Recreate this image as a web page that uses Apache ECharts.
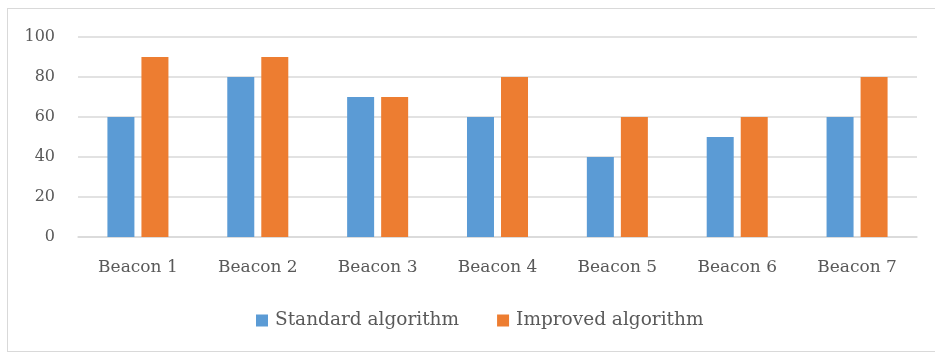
<!DOCTYPE html>
<html><head><meta charset="utf-8">
<script src="https://cdn.jsdelivr.net/npm/echarts@6/dist/echarts.min.js"></script>
<style>html,body{margin:0;padding:0;background:#fff;overflow:hidden}
#frame{position:absolute;left:7px;top:8px;width:940px;height:344px;border:1px solid #d9d9d9;box-sizing:border-box}
#c{position:absolute;left:0;top:0;width:935px;height:354px}</style>
</head><body><div id="frame"></div><div id="c"></div>
<script>
const categories = ['Beacon 1','Beacon 2','Beacon 3','Beacon 4','Beacon 5','Beacon 6','Beacon 7'];
const standard = [60, 80, 70, 60, 40, 50, 60];
const improved = [90, 90, 70, 80, 60, 60, 80];
const yTicks = {min: 0, max: 100, interval: 20};
const font = '"DejaVu Serif", serif';
const chart = echarts.init(document.getElementById('c'), null, {renderer:'canvas'});
chart.setOption({
  animation:false,
  grid:{left:78, right:18, top:37, bottom:117, containLabel:false},
  legend:{bottom:24, left:256, padding:0, itemWidth:12, itemHeight:12, itemGap:38,
    icon:'rect', textStyle:{fontFamily:font, fontSize:18.5, color:'#595959', padding:[0,0,0,2]},
    data:['Standard algorithm','Improved algorithm']},
  xAxis:{type:'category', data:categories,
    axisLine:{lineStyle:{color:'#d9d9d9', width:1.5}}, axisTick:{show:false},
    axisLabel:{fontFamily:font, fontSize:17, color:'#595959', margin:22}},
  yAxis:{type:'value', min:yTicks.min, max:yTicks.max, interval:yTicks.interval,
    axisLine:{show:false}, axisTick:{show:false},
    splitLine:{lineStyle:{color:'#d9d9d9', width:1.5}},
    axisLabel:{fontFamily:font, fontSize:16, color:'#595959', margin:23}},
  series:[
    {name:'Standard algorithm', type:'bar', data:standard, barWidth:27, barGap:'26%',
     itemStyle:{color:'#5b9bd5'}},
    {name:'Improved algorithm', type:'bar', data:improved, barWidth:27,
     itemStyle:{color:'#ed7d31'}}
  ]
});
</script></body></html>
